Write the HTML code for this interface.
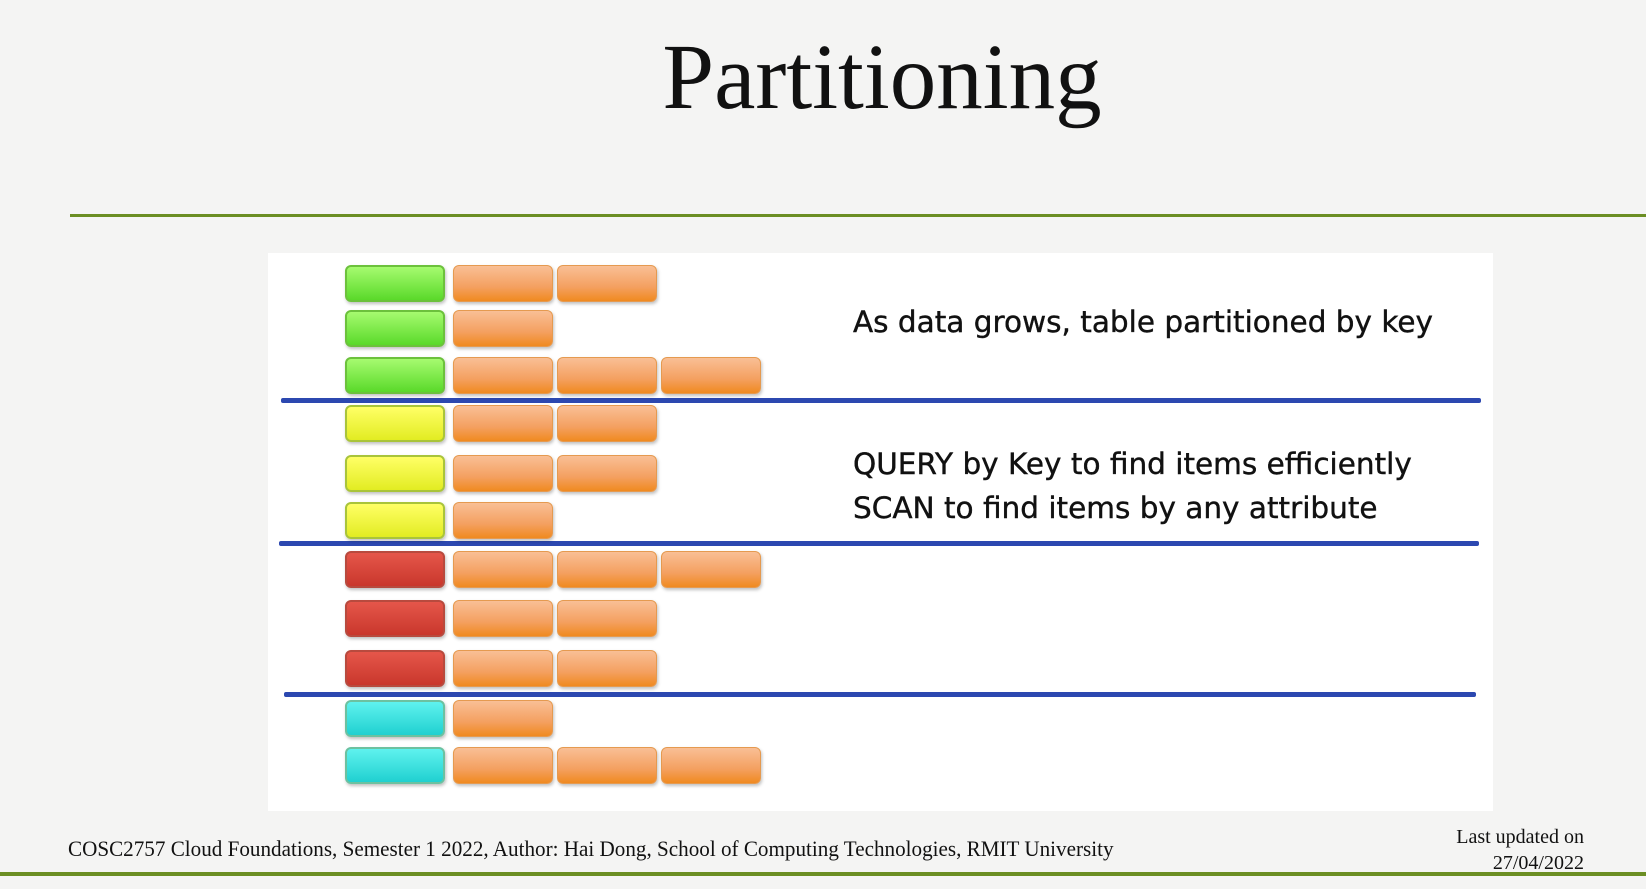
<!DOCTYPE html>
<html><head><meta charset="utf-8">
<style>
html,body{margin:0;padding:0}
body{width:1646px;height:889px;position:relative;overflow:hidden;background:#f4f4f3;font-family:"Liberation Serif",serif}
.abs{position:absolute}
#title{left:0;width:1764px;top:24px;text-align:center;font-size:93px;color:#111}
.blk{position:absolute;height:37px;border-radius:6px;box-sizing:border-box;box-shadow:1px 2px 3px rgba(0,0,0,.25)}
.txt{position:absolute;font-family:"DejaVu Sans","Liberation Sans",sans-serif;font-size:29.5px;color:#111;white-space:nowrap;-webkit-text-stroke:0.4px #111}
.bl{position:absolute;height:5px;background:#2c48b0;border-radius:2px}
</style></head><body>
<div id="title" class="abs">Partitioning</div>
<div class="abs" style="left:70px;top:214px;width:1576px;height:3px;background:#6b8e23"></div>
<div class="abs" id="panel" style="left:268px;top:253px;width:1225px;height:558px;background:#fff"></div>
<div class="bl" style="left:281px;top:398px;width:1200px"></div>
<div class="bl" style="left:279px;top:541px;width:1200px"></div>
<div class="bl" style="left:284px;top:692px;width:1192px"></div>
<div class="txt" style="left:853px;top:305px">As data grows, table partitioned by key</div>
<div class="txt" style="left:853px;top:447px">QUERY by Key to find items efficiently</div>
<div class="txt" style="left:853px;top:491px">SCAN to find items by any attribute</div>
<div class="abs" style="left:68px;top:836px;font-size:22px;color:#111;white-space:nowrap;transform:scaleX(0.96);transform-origin:left">COSC2757 Cloud Foundations, Semester 1 2022, Author: Hai Dong, School of Computing Technologies, RMIT University</div>
<div class="abs" style="right:62px;top:824px;font-size:20px;color:#111;text-align:right;line-height:26px">Last updated on<br>27/04/2022</div>
<div class="abs" style="left:0;top:872px;width:1646px;height:4px;background:#6b8e23"></div>
<script>
const rowTops=[265,310,357,405,455,502,551,600,650,700,747];
const itemCounts=[2,1,3,2,2,1,3,2,2,1,3];
const keyColors=["green","green","green","yellow","yellow","yellow","red","red","red","cyan","cyan"];
const grads={green:["#a6fb6f","#5ad92a","#6cc13c"],yellow:["#ffff66","#e2ec22","#a9c43a"],red:["#e5564a","#c9372c","#b84a3e"],cyan:["#5ff2ee","#20d0d0","#6cc1a0"]};
rowTops.forEach((y,i)=>{
  const g=grads[keyColors[i]];
  const k=document.createElement('div');
  k.className='blk';
  
  
  k.style.cssText=`left:345px;top:${y}px;width:100px;background:linear-gradient(${g[0]},${g[1]});border:2px solid ${g[2]}`;
  document.body.appendChild(k);
  for(let j=0;j<itemCounts[i];j++){
    const it=document.createElement('div');
    it.className='blk';
    
    
    it.style.cssText=`left:${453+j*104}px;top:${y}px;width:100px;background:linear-gradient(#f9bf95,#f4a060 60%,#f08a20);border:1px solid #e59a50`;
    document.body.appendChild(it);
  }
});
</script>
</body></html>
